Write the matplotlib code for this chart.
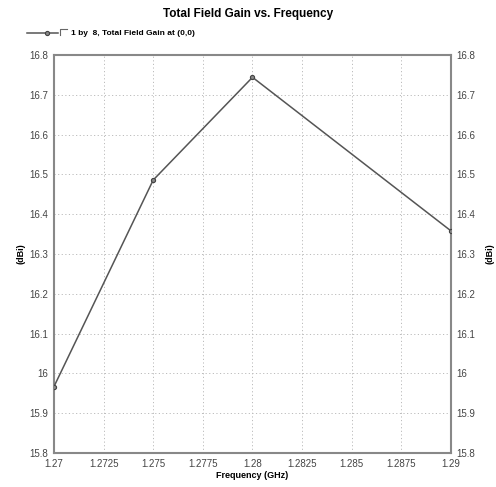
import numpy as np
import matplotlib
matplotlib.use('Agg')
import matplotlib.pyplot as plt
from matplotlib.lines import Line2D

# data
freq = [1.27, 1.275, 1.28, 1.29]
gain = [15.967, 16.486, 16.744, 16.358]
xticks = [1.27, 1.2725, 1.275, 1.2775, 1.28, 1.2825, 1.285, 1.2875, 1.29]
xlabels = ['1.27', '1.2725', '1.275', '1.2775', '1.28', '1.2825', '1.285', '1.2875', '1.29']
yticks = [15.8, 15.9, 16.0, 16.1, 16.2, 16.3, 16.4, 16.5, 16.6, 16.7, 16.8]
ylabels = ['15.8', '15.9', '16', '16.1', '16.2', '16.3', '16.4', '16.5', '16.6', '16.7', '16.8']

plt.rcParams['font.family'] = ['Liberation Sans', 'DejaVu Sans']

fig = plt.figure(figsize=(4.96, 4.87), dpi=100)
ax = fig.add_axes([54 / 496, 34 / 487, 397 / 496, 398 / 487])

ax.plot(freq, gain, color='#555555', lw=1.1, marker='o', ms=3,
        mfc='#888888', mec='#444444', mew=0.8, zorder=3)

ax.set_xlim(1.27, 1.29)
ax.set_ylim(15.8, 16.8)
ax.set_xticks(xticks)
ax.set_xticklabels(xlabels)
ax.set_yticks(yticks)
ax.set_yticklabels(ylabels)
ax.tick_params(length=0, labelsize=7, colors='#444444', pad=4)
ax.tick_params(axis='y', labelright=True, right=False)
ax.grid(True, ls=(0, (1.2, 2.5)), color='#bbbbbb', lw=0.7)

for s in ax.spines.values():
    s.set_color('#888888')
    s.set_linewidth(1.5)

ax.set_xlabel('Frequency (GHz)', fontsize=6.5, fontweight='bold', labelpad=2)
ax.set_ylabel('(dBi)', fontsize=6.5, fontweight='bold', labelpad=3)
ax2 = ax.secondary_yaxis('right')
ax2.set_yticks([])
ax2.spines['right'].set_visible(False)
ax2.set_ylabel('(dBi)', fontsize=6.5, fontweight='bold', labelpad=25)

fig.text(0.5, 1 - 14 / 487, 'Total Field Gain vs. Frequency', ha='center', va='center',
         fontsize=8.5, fontweight='bold')

# legend drawn by hand in figure pixels
fig.add_artist(Line2D([27 / 496, 58 / 496], [1 - 33 / 487] * 2, color='#555555', lw=1.1,
                      transform=fig.transFigure))
fig.add_artist(Line2D([47 / 496], [1 - 33 / 487], marker='o', ms=3, mfc='#888888',
                      mec='#444444', mew=0.8, transform=fig.transFigure))
fig.add_artist(Line2D([60 / 496, 60 / 496, 67 / 496], [1 - 35 / 487, 1 - 29 / 487, 1 - 29 / 487],
                      color='#666666', lw=0.8, transform=fig.transFigure))
fig.text(71 / 496, 1 - 33 / 487, '1 by  8, Total Field Gain at (0,0)', ha='left', va='center',
         fontsize=6, fontweight='bold')

fig.savefig('out.png', dpi=100)
